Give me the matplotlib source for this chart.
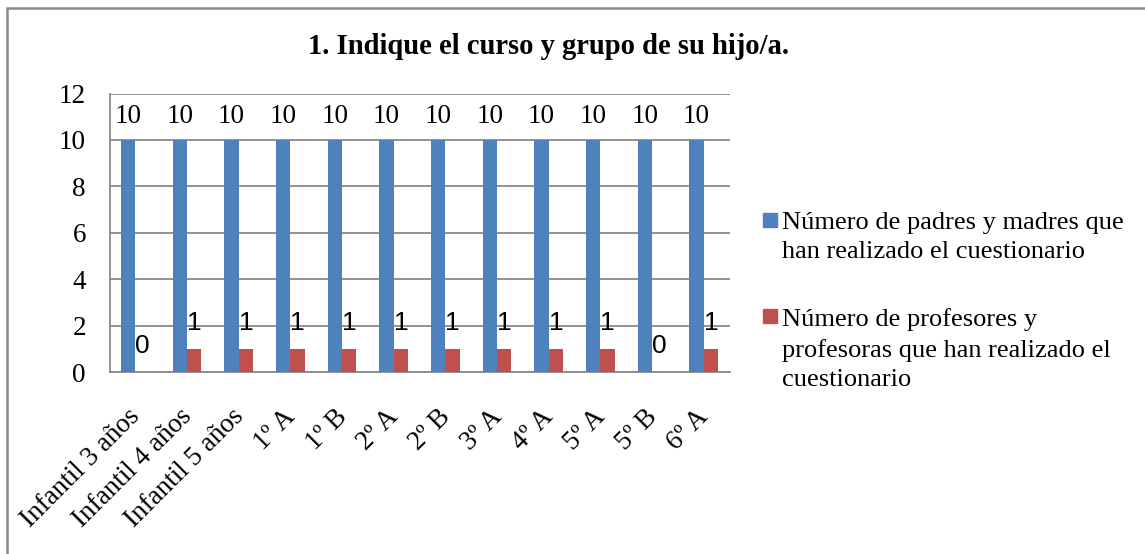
import matplotlib
matplotlib.use("Agg")
import matplotlib.pyplot as plt
import matplotlib.transforms as mtransforms
import numpy as np
from matplotlib.patches import Rectangle

categories = ["Infantil 3 años", "Infantil 4 años", "Infantil 5 años", "1º A", "1º B",
              "2º A", "2º B", "3º A", "4º A", "5º A", "5º B", "6º A"]
padres = [10, 10, 10, 10, 10, 10, 10, 10, 10, 10, 10, 10]
profesores = [0, 1, 1, 1, 1, 1, 1, 1, 1, 1, 0, 1]
series_labels = ["Número de padres y madres que\nhan realizado el cuestionario",
                 "Número de profesores y\nprofesoras que han realizado el\ncuestionario"]
title = "1. Indique el curso y grupo de su hijo/a."

BLUE = "#4F81BD"
RED = "#C0504D"
GRID = "#898989"
SERIF = "Liberation Serif"
SANS = "Liberation Sans"

W, H = 1145, 554
fig = plt.figure(figsize=(W / 100, H / 100), dpi=100)
ax = fig.add_axes([109.5 / W, 1 - 372 / H, 620 / W, (372 - 93.5) / H])

x = np.arange(len(categories))
bw = 0.28
ax.bar(x - bw / 2, padres, width=bw, color=BLUE, zorder=3)
ax.bar(x + bw / 2, profesores, width=bw, color=RED, zorder=3)

for xi, v in zip(x, padres):
    ax.annotate(str(v), (xi - bw / 2, v), xytext=(0, 12.5), textcoords="offset points",
                ha="center", va="baseline", fontsize=19.5, family=SERIF)
for xi, v in zip(x, profesores):
    ax.annotate(str(v), (xi + bw / 2, v), xytext=(0, 13.5), textcoords="offset points",
                ha="center", va="baseline", fontsize=19, family=SANS)

ax.set_xlim(-0.5, len(categories) - 0.5)
ax.set_ylim(0, 12)
ax.set_yticks(range(0, 13, 2))
ax.yaxis.grid(True, color=GRID, lw=1.3, zorder=0)
ax.set_axisbelow(True)
for side in ("top", "right"):
    ax.spines[side].set_visible(False)
for side in ("left", "bottom"):
    ax.spines[side].set_color(GRID)
    ax.spines[side].set_linewidth(1.3)
ax.tick_params(axis="y", length=0, pad=17, labelsize=19.5)
ax.tick_params(axis="x", length=0, pad=23, labelsize=19.5)
for lab in ax.get_yticklabels():
    lab.set_family(SERIF)
ax.set_xticks(x)
ax.set_xticklabels(categories, rotation=45, ha="right", va="top", family=SERIF)
shift = mtransforms.ScaledTranslation(10 / 100, 0, fig.dpi_scale_trans)
for lab in ax.get_xticklabels():
    lab.set_transform(lab.get_transform() + shift)

fig.text(549 / W, 1 - 46 / H, title, ha="center", va="center", fontsize=20.6,
         fontweight="bold", family=SERIF)

# legend drawn by hand so the swatch lines up with the first text line
legend_rows = [(BLUE, 213), (RED, 309)]
for (color, top), label in zip(legend_rows, series_labels):
    fig.add_artist(Rectangle((763 / W, 1 - (top + 14) / H), 14 / W, 14 / H,
                             transform=fig.transFigure, color=color))
    fig.text(782 / W, 1 - (top - 1) / H, label, ha="left", va="top", fontsize=19,
             family=SERIF, linespacing=1.42)

fig.add_artist(Rectangle((6.5 / W, -0.5), 2, 1.5 - 7.5 / H, transform=fig.transFigure,
                         fill=False, ec=GRID, lw=1.8))

fig.savefig("out.png", dpi=100)
